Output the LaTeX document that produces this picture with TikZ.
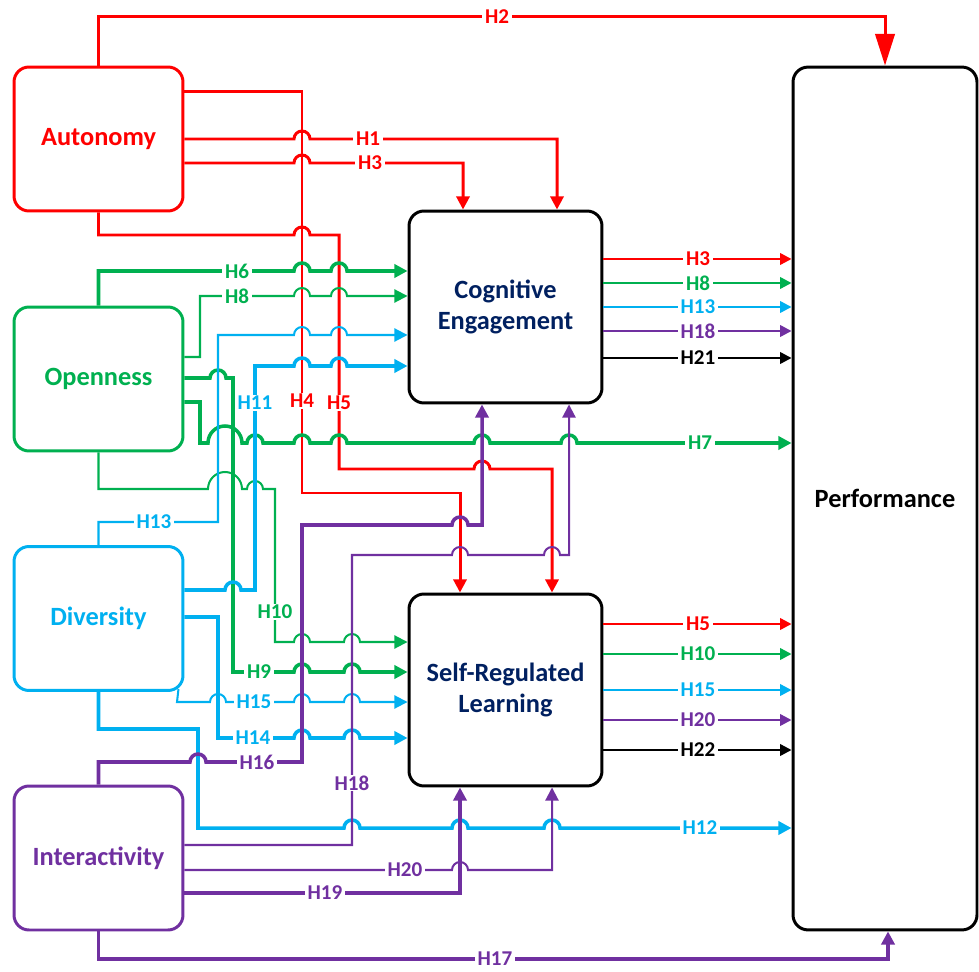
\documentclass[tikz,border=0pt]{standalone}
\usepackage{fontspec}
\setmainfont{Carlito}
\usetikzlibrary{arrows.meta, calc}
\definecolor{hred}{RGB}{255, 0, 0}
\definecolor{hgreen}{RGB}{0, 176, 80}
\definecolor{hblue}{RGB}{0, 176, 240}
\definecolor{hpurple}{RGB}{112, 48, 160}
\definecolor{hnavy}{RGB}{0, 32, 96}
\newcommand\hopover[2]{-- ({#1-8},#2) arc[start angle=180, end angle=360, radius=8]}
\newcommand\widehop[2]{-- ({#1-17},#2) arc[start angle=180, end angle=360, radius=17]}

\begin{document}
\begin{tikzpicture}[x=0.02cm, y=-0.02cm,
  cbox/.style={draw, rounded corners=8.5pt, line width=1.7pt, fill=white, minimum width=3.38cm, minimum height=2.88cm, align=center, font=\fontsize{15}{18}\selectfont\bfseries},
  mbox/.style={cbox, draw=black, text=hnavy, minimum width=3.86cm, minimum height=3.84cm},
  lbl/.style={fill=white, inner xsep=1.5pt, inner ysep=0.5pt, font=\fontsize{12}{14}\selectfont\bfseries},
  thk/.style={line width=2pt},
  thn/.style={line width=1.15pt},
  rd/.style={hred, line width=1.7pt},
  outl/.style={line width=1.3pt, -{Triangle[length=6.5pt,width=6.5pt]}},
  tip/.style={-{Triangle[length=7.5pt,width=7.5pt]}}
]
  \useasboundingbox (0,0) rectangle (979,972);

  % constructs
  \node[cbox, draw=hred, text=hred] (aut) at (98.5,139) {Autonomy};
  \node[cbox, draw=hgreen, text=hgreen] (opn) at (98.5,379) {Openness};
  \node[cbox, draw=hblue, text=hblue] (div) at (98.5,618.5) {Diversity};
  \node[cbox, draw=hpurple, text=hpurple] (inter) at (98.5,858) {Interactivity};
  \node[mbox] (ce) at (505.5,307) {Cognitive\\Engagement};
  \node[mbox] (srl) at (505.5,690) {Self-Regulated\\Learning};
  \node[cbox, draw=black, text=black, minimum width=3.68cm, minimum height=17.26cm] (perf) at (885,498.5) {Performance};

  % autonomy
  \draw[rd, -{Triangle[length=18pt,width=11pt]}] (aut.north) -- (aut.north |- 0,17) -- (perf.north |- 0,17) -- (perf.north);
  \draw[rd, tip] (aut.east |- 0,92) -- (302,92) -- (302,493) -- (460,493) -- (srl.north -| 460,0);
  \draw[rd, tip] (aut.east |- 0,139) \hopover{302}{139} -- (557,139) -- (ce.north -| 557,0);
  \draw[rd, tip] (aut.east |- 0,163) \hopover{302}{163} -- (463,163) -- (ce.north -| 463,0);
  \draw[rd, tip] (aut.south) -- (aut.south |- 0,235) \hopover{302}{235} -- (339,235) -- (339,469) \hopover{482}{469} -- (552,469) -- (srl.north -| 552,0);

  % openness
  \draw[hgreen, thk, tip] (opn.north) -- (opn.north |- 0,271) \hopover{302}{271} \hopover{339}{271} -- (ce.west |- 0,271);
  \draw[hgreen, thn, tip] (opn.east |- 0,357) -- (200,357) -- (200,296) \hopover{302}{296} \hopover{339}{296} -- (ce.west |- 0,296);
  \draw[hgreen, thk, tip] (opn.east |- 0,378) \hopover{218}{378} -- (233,378) -- (233,672) \hopover{302}{672} \hopover{352}{672} -- (srl.west |- 0,672);
  \draw[hgreen, thk, tip] (opn.east |- 0,402) -- (200,402) -- (200,443) \widehop{225}{443} \hopover{255}{443} \hopover{302}{443} \hopover{339}{443} \hopover{482}{443} \hopover{569}{443} -- (perf.west |- 0,443);
  \draw[hgreen, thn, tip] (opn.south) -- (opn.south |- 0,489) \widehop{225}{489} \hopover{255}{489} -- (275,489) -- (275,642) \hopover{302}{642} \hopover{352}{642} -- (srl.west |- 0,642);

  % diversity
  \draw[hblue, thn, tip] (div.north) -- (div.north |- 0,522) -- (218,522) -- (218,335) \hopover{302}{335} \hopover{339}{335} -- (ce.west |- 0,335);
  \draw[hblue, thk, tip] (div.east |- 0,590) \hopover{233}{590} -- (255,590) -- (255,366) \hopover{302}{366} \hopover{339}{366} -- (ce.west |- 0,366);
  \draw[hblue, thk, tip] (div.east |- 0,617) -- (218,617) -- (218,738) \hopover{302}{738} \hopover{352}{738} -- (srl.west |- 0,738);
  \draw[hblue, thn, tip] ($(div.south east)+(-6,-3)$) -- (177,702) \hopover{218}{702} \hopover{302}{702} \hopover{352}{702} -- (srl.west |- 0,702);
  \draw[hblue, thk, tip] (div.south) -- (div.south |- 0,729) -- (198,729) -- (198,828) \hopover{352}{828} \hopover{460}{828} \hopover{552}{828} -- (perf.west |- 0,828);

  % interactivity
  \draw[hpurple, thk, tip] (inter.north) -- (inter.north |- 0,762) \hopover{198}{762} -- (302,762) -- (302,525) \hopover{460}{525} -- (482,525) -- (ce.south -| 482,0);
  \draw[hpurple, thn, tip] (inter.east |- 0,845) -- (352,845) -- (352,555) \hopover{460}{555} \hopover{552}{555} -- (569,555) -- (ce.south -| 569,0);
  \draw[hpurple, thn, tip] (inter.east |- 0,870) \hopover{460}{870} -- (552,870) -- (srl.south -| 552,0);
  \draw[hpurple, thk, tip] (inter.east |- 0,893) -- (460,893) -- (srl.south -| 460,0);
  \draw[hpurple, thk, tip] (inter.south) -- (inter.south |- 0,959) -- (888,959) -- (perf.south -| 888,0);

  % mediators to performance
  \draw[hred, outl] (ce.east |- 0,259) -- (perf.west |- 0,259);
  \draw[hgreen, outl] (ce.east |- 0,283) -- (perf.west |- 0,283);
  \draw[hblue, outl] (ce.east |- 0,307) -- (perf.west |- 0,307);
  \draw[hpurple, outl] (ce.east |- 0,331) -- (perf.west |- 0,331);
  \draw[black, outl] (ce.east |- 0,358) -- (perf.west |- 0,358);
  \draw[hred, outl] (srl.east |- 0,624) -- (perf.west |- 0,624);
  \draw[hgreen, outl] (srl.east |- 0,654) -- (perf.west |- 0,654);
  \draw[hblue, outl] (srl.east |- 0,690) -- (perf.west |- 0,690);
  \draw[hpurple, outl] (srl.east |- 0,720) -- (perf.west |- 0,720);
  \draw[black, outl] (srl.east |- 0,750) -- (perf.west |- 0,750);

  % labels
  \node[lbl, text=hred] (lH1) at (368,139) {H1};
  \node[lbl, text=hred] (lH2) at (497,17) {H2};
  \node[lbl, text=hred] (lH3a) at (370,163) {H3};
  \node[lbl, text=hred] (lH4) at (302,401) {H4};
  \node[lbl, text=hred] (lH5a) at (339,403) {H5};
  \node[lbl, text=hgreen] (lH6) at (237,271) {H6};
  \node[lbl, text=hgreen] (lH8a) at (237,296) {H8};
  \node[lbl, text=hgreen] (lH7) at (700,443) {H7};
  \node[lbl, text=hgreen] (lH9) at (259,672) {H9};
  \node[lbl, text=hgreen] (lH10a) at (275,612) {H10};
  \node[lbl, text=hblue] (lH13a) at (154,522) {H13};
  \node[lbl, text=hblue] (lH11) at (255,403) {H11};
  \node[lbl, text=hblue] (lH14) at (253,738) {H14};
  \node[lbl, text=hblue] (lH15a) at (254,702) {H15};
  \node[lbl, text=hblue] (lH12) at (700,828) {H12};
  \node[lbl, text=hpurple] (lH16) at (257,762) {H16};
  \node[lbl, text=hpurple] (lH18a) at (352,783) {H18};
  \node[lbl, text=hpurple] (lH20a) at (405,870) {H20};
  \node[lbl, text=hpurple] (lH19) at (325,893) {H19};
  \node[lbl, text=hpurple] (lH17) at (495,959) {H17};
  \node[lbl, text=hred] (lH3b) at (698,259) {H3};
  \node[lbl, text=hgreen] (lH8b) at (698,283) {H8};
  \node[lbl, text=hblue] (lH13b) at (698,307) {H13};
  \node[lbl, text=hpurple] (lH18b) at (698,331) {H18};
  \node[lbl, text=black] (lH21) at (698,358) {H21};
  \node[lbl, text=hred] (lH5b) at (698,624) {H5};
  \node[lbl, text=hgreen] (lH10b) at (698,654) {H10};
  \node[lbl, text=hblue] (lH15b) at (698,690) {H15};
  \node[lbl, text=hpurple] (lH20b) at (698,720) {H20};
  \node[lbl, text=black] (lH22) at (698,750) {H22};
\end{tikzpicture}
\end{document}
